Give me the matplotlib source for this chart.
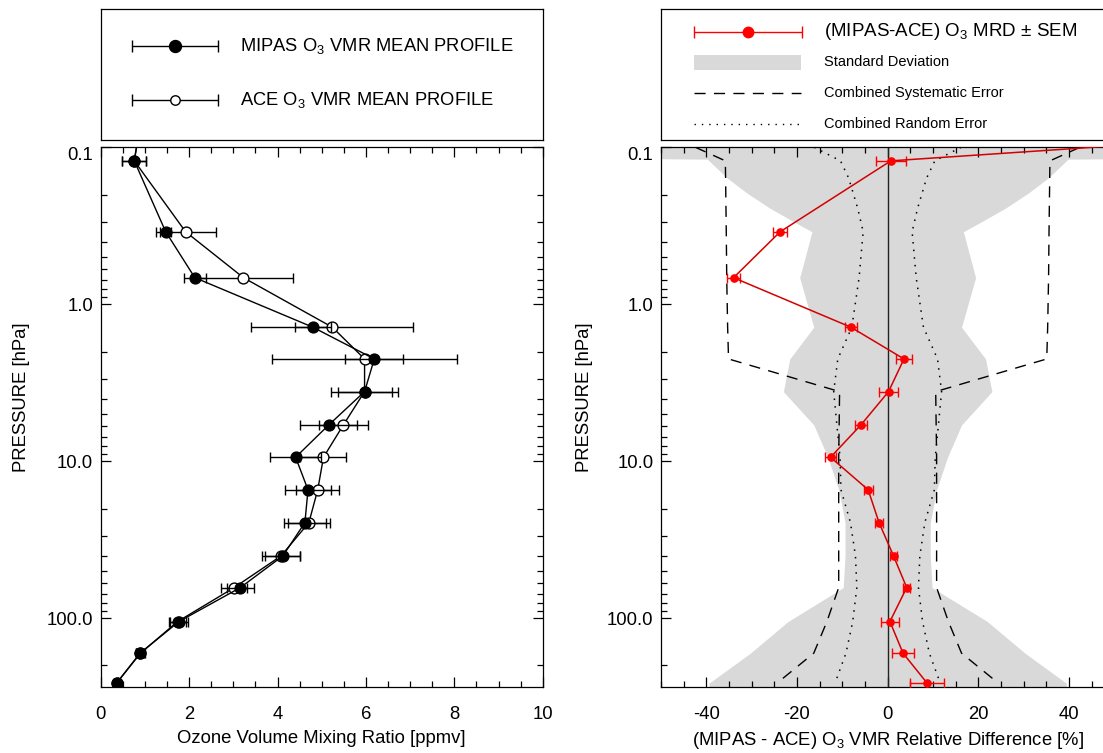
import numpy as np
import matplotlib
matplotlib.use("Agg")
import matplotlib.pyplot as plt
from matplotlib.patches import Rectangle
from matplotlib.ticker import FixedLocator, MultipleLocator, LogLocator, NullFormatter, FuncFormatter

plt.rcParams['font.family'] = ['Liberation Sans', 'DejaVu Sans']
plt.rcParams['mathtext.fontset'] = 'custom'
plt.rcParams['mathtext.rm'] = 'Liberation Sans'
plt.rcParams['mathtext.default'] = 'regular'
plt.rcParams['axes.unicode_minus'] = False

# pressure grid [hPa] (first level sits above the plotted range)
pressure = [0.043, 0.122, 0.345, 0.677, 1.40, 2.23, 3.60, 5.87, 9.43,
            15.2, 24.6, 40.1, 63.8, 105.0, 167.0, 259.0]

# mean O3 profiles [ppmv] and their errors
mipas_vmr = [1.02, 0.76, 1.47, 2.13, 4.80, 6.19, 5.97, 5.16, 4.41,
             4.69, 4.62, 4.12, 3.16, 1.77, 0.89, 0.36]
mipas_err = [0.30, 0.27, 0.13, 0.25, 0.41, 0.66, 0.61, 0.64, 0.57,
             0.51, 0.47, 0.40, 0.30, 0.20, 0.10, 0.06]
ace_vmr = [1.02, 0.76, 1.92, 3.23, 5.24, 5.97, 5.97, 5.49, 5.04,
           4.91, 4.71, 4.08, 3.02, 1.74, 0.90, 0.36]
ace_err = [0.30, 0.27, 0.68, 1.13, 1.83, 2.10, 0.75, 0.55, 0.52,
           0.49, 0.48, 0.42, 0.30, 0.20, 0.10, 0.06]

# mean relative difference [%] and standard error of the mean
mrd = [234.0, 0.7, -23.7, -34.0, -8.1, 3.6, 0.2, -5.9, -12.6,
       -4.3, -1.9, 1.3, 4.2, 0.5, 3.4, 8.7]
sem = [10.0, 3.3, 1.5, 1.5, 1.4, 1.8, 2.0, 1.4, 1.3,
       1.0, 0.8, 0.7, 0.8, 1.9, 2.5, 3.8]

# standard deviation envelope [%]
sd_pressure = [0.10, 0.1175, 0.119, 0.157, 0.196, 0.245, 0.298, 0.345, 0.677,
               1.40, 2.23, 3.60, 5.87, 9.43, 15.2, 24.6, 40.1, 63.8, 105.0,
               167.0, 259.0, 300.0]
sd_value = [60.0, 60.0, 39.8, 35.4, 31.0, 25.9, 20.7, 16.7, 19.4,
            16.3, 21.6, 23.0, 16.3, 13.2, 10.8, 9.4, 9.4, 9.8, 22.0,
            30.3, 39.4, 39.4]

# combined systematic error [%]
sys_pressure = [0.10, 0.122, 0.345, 0.677, 1.40, 2.23, 3.60, 5.87, 9.43,
                15.2, 24.6, 40.1, 63.8, 105.0, 167.0, 259.0]
sys_value = [42.4, 35.8, 35.6, 35.5, 35.3, 35.1, 10.6, 10.7, 10.8,
             10.8, 10.8, 10.8, 10.8, 13.4, 16.3, 24.4]

# combined random error [%]
rnd_pressure = [0.10, 0.122, 0.157, 0.245, 0.345, 0.677, 1.40, 2.23, 3.60,
                5.87, 9.43, 15.2, 24.6, 40.1, 63.8, 105.0, 167.0, 259.0]
rnd_value = [16.2, 10.4, 8.6, 6.6, 5.4, 6.3, 7.9, 11.0, 11.9,
             11.2, 10.5, 10.3, 8.2, 7.1, 6.8, 7.7, 9.2, 11.6]

W, H = 1103, 753
fig = plt.figure(figsize=(W / 100, H / 100), dpi=100)


def px_axes(x0, x1, y0, y1):
    return fig.add_axes([x0 / W, (H - y1) / H, (x1 - x0) / W, (y1 - y0) / H])


ax1 = px_axes(100.7, 542.7, 147.3, 686.7)
ax2 = px_axes(661.0, 1114.3, 147.3, 686.7)
leg1 = px_axes(100.7, 542.7, 9.3, 139.5)
leg2 = px_axes(661.0, 1114.3, 9.3, 139.5)

FS = 13.3

for ax in (ax1, ax2):
    ax.set_yscale('log')
    ax.set_ylim(273, 0.1)
    ax.yaxis.set_major_locator(FixedLocator([0.1, 1, 10, 100]))
    ax.yaxis.set_major_formatter(FuncFormatter(lambda v, pos: f"{v:.1f}"))
    ax.yaxis.set_minor_locator(LogLocator(base=10, subs=np.arange(2, 10)))
    ax.yaxis.set_minor_formatter(NullFormatter())
    ax.tick_params(which='both', direction='in', top=True, right=True,
                   width=0.9, labelsize=FS, colors='black')
    ax.tick_params(which='major', length=7)
    ax.tick_params(which='minor', length=4.3)
    ax.tick_params(axis='x', pad=14)
    ax.tick_params(axis='y', pad=5.5)
    for s in ax.spines.values():
        s.set_linewidth(0.9)
    ax.set_ylabel('PRESSURE [hPa]', fontsize=FS)

ax1.yaxis.set_label_coords(-0.160, 0.537)
ax2.yaxis.set_label_coords(-0.150, 0.537)

# ---- left panel: mean profiles
ax1.errorbar(ace_vmr, pressure, xerr=ace_err, color='black', lw=1.0,
             marker='o', ms=7.8, mfc='white', mec='black', mew=1.0,
             capsize=3.5, elinewidth=1.0, capthick=1.0, zorder=3)
ax1.errorbar(mipas_vmr, pressure, xerr=mipas_err, color='black', lw=1.0,
             marker='o', ms=7.8, mfc='black', mec='black',
             capsize=3.5, elinewidth=1.0, capthick=1.0, zorder=4)
ax1.set_xlim(0, 10)
ax1.xaxis.set_major_locator(MultipleLocator(2))
ax1.xaxis.set_minor_locator(MultipleLocator(0.5))
ax1.set_xlabel('Ozone Volume Mixing Ratio [ppmv]', fontsize=FS, labelpad=5)

# ---- right panel: relative differences
sd = np.array(sd_value)
ax2.fill_betweenx(sd_pressure, -sd, sd, color='#d9d9d9', lw=0, zorder=1)
sysv = np.array(sys_value)
rndv = np.array(rnd_value)
for sign in (-1, 1):
    ax2.plot(sign * sysv, sys_pressure, color='black', lw=1.0,
             dashes=(8, 6), zorder=2)
    ax2.plot(sign * rndv, rnd_pressure, color='black', lw=1.1,
             dashes=(1, 4.0), zorder=2)
ax2.axvline(0, color='#222222', lw=1.0, zorder=2)
ax2.errorbar(mrd, pressure, xerr=sem, color='#d40000', lw=1.1,
             marker='o', ms=5.2, mfc='red', mec='red',
             ecolor='red', elinewidth=1.0, capsize=3.8, capthick=1.0, zorder=3)
ax2.set_xlim(-50, 50)
ax2.xaxis.set_major_locator(MultipleLocator(20))
ax2.xaxis.set_minor_locator(MultipleLocator(5))
ax2.set_xlabel(r'(MIPAS - ACE) O$_3$ VMR Relative Difference [%]',
               fontsize=FS, labelpad=5)

fig.canvas.draw()
for ax in (ax1, ax2):
    ax.yaxis.get_major_ticks()[0].label1.set_va('top')

# ---- legend boxes
for lg in (leg1, leg2):
    lg.set_xlim(0, 1)
    lg.set_ylim(0, 1)
    lg.set_xticks([])
    lg.set_yticks([])
    for s in lg.spines.values():
        s.set_linewidth(0.9)

leg1.errorbar([0.168], [0.718], xerr=[0.097], color='black', lw=1.0,
              marker='o', ms=8.6, mfc='black', mec='black',
              capsize=4.3, capthick=1.0)
leg1.errorbar([0.168], [0.303], xerr=[0.097], color='black', lw=1.0,
              marker='o', ms=6.8, mfc='white', mec='black',
              capsize=4.3, capthick=1.0)
leg1.text(0.315, 0.718, r'MIPAS O$_3$ VMR MEAN PROFILE', fontsize=13.2, va='center')
leg1.text(0.315, 0.303, r'ACE O$_3$ VMR MEAN PROFILE', fontsize=13.2, va='center')

leg2.errorbar([0.191], [0.829], xerr=[0.119], color='red', lw=1.0,
              marker='o', ms=7.5, mfc='red', mec='red',
              capsize=4.3, capthick=1.0)
leg2.add_patch(Rectangle((0.072, 0.595 - 0.0575), 0.237, 0.115,
                         facecolor='#d9d9d9', edgecolor='none'))
leg2.plot([0.072, 0.309], [0.357, 0.357], color='black', lw=1.0, dashes=(8, 6))
leg2.plot([0.072, 0.309], [0.119, 0.119], color='black', lw=1.0, dashes=(1, 4.3))
leg2.text(0.36, 0.829, r'(MIPAS-ACE) O$_3$ MRD $\pm$ SEM', fontsize=13.5, va='center')
leg2.text(0.36, 0.595, 'Standard Deviation', fontsize=10.5, va='center')
leg2.text(0.36, 0.357, 'Combined Systematic Error', fontsize=10.5, va='center')
leg2.text(0.36, 0.119, 'Combined Random Error', fontsize=10.5, va='center')

fig.savefig('out.png', dpi=100)
